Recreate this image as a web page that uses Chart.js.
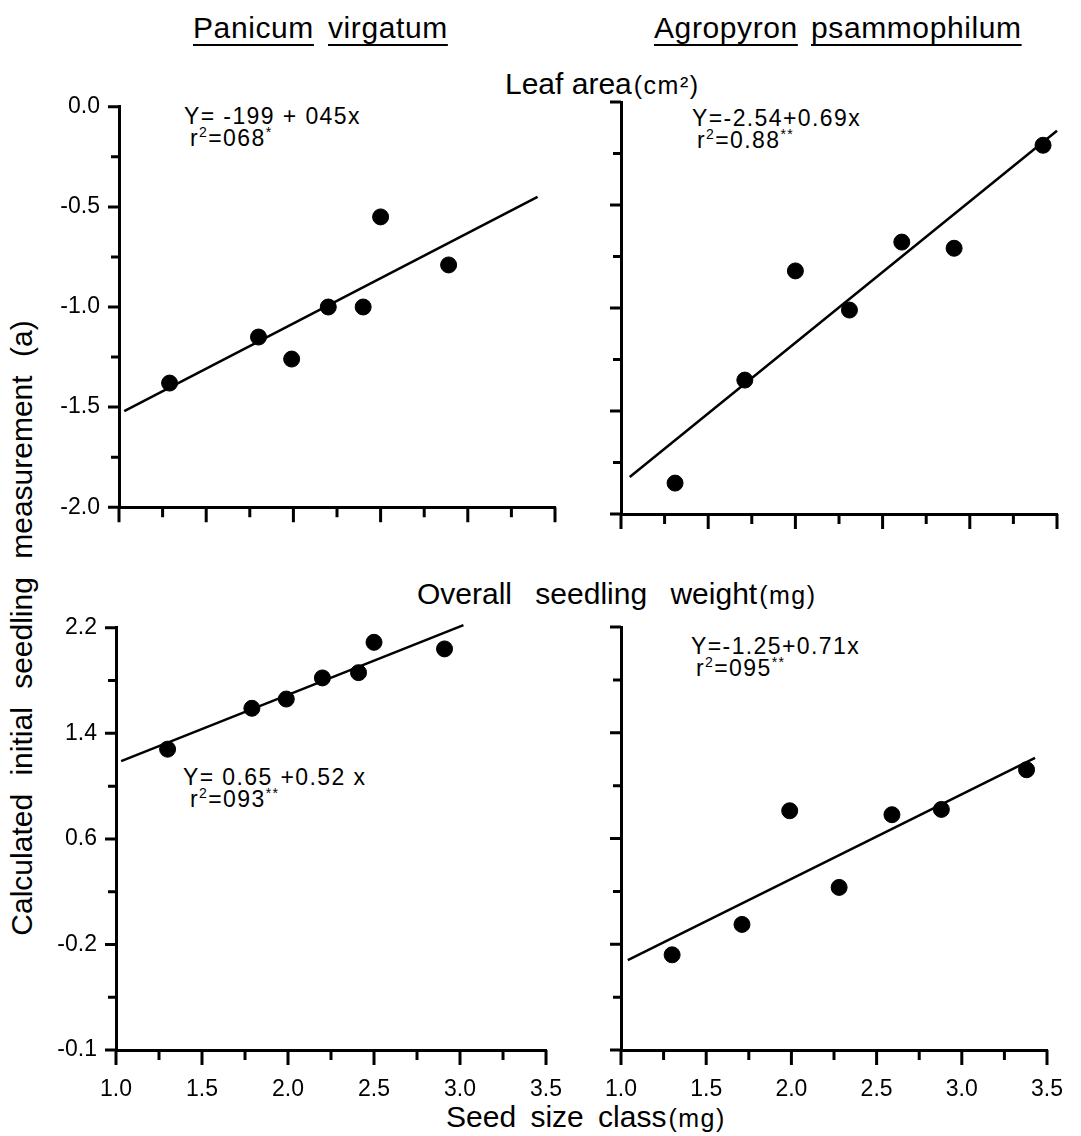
<!DOCTYPE html>
<html>
<head>
<meta charset="utf-8">
<title>Seed size class vs initial seedling measurement</title>
<script src="https://cdn.jsdelivr.net/npm/chart.js@4.4.1/dist/chart.umd.min.js"></script>
<style>
    body { margin: 0; background: #fff; }
    #page { position: relative; width: 1081px; height: 1136px; overflow: hidden; background: #fff;
            font-family: 'Liberation Sans', Arial, sans-serif; color: #000; }
    canvas { position: absolute; }
    .txt { position: absolute; white-space: nowrap; line-height: 1; transform: translateY(-50%); }
    .title { font-size: 30px; letter-spacing: 0.6px; text-decoration: underline; text-decoration-thickness: 2px; text-underline-offset: 6px; }
    .head { font-size: 30px; }
    .head small { font-size: 25px; letter-spacing: 1.5px; margin-left: 2px; }
    .eq { font-size: 23px; letter-spacing: 1.4px; }
    .eq sup { font-size: 14px; line-height: 0; }
</style>
</head>
<body>
<div id="page">
    <!-- species titles -->
    <div class="txt title" style="left:193px; top:28px;">Panicum</div>
    <div class="txt title" style="left:328px; top:28px;">virgatum</div>
    <div class="txt title" style="left:654px; top:28px;">Agropyron</div>
    <div class="txt title" style="left:811px; top:28px;">psammophilum</div>

    <!-- measurement headings -->
    <div class="txt head" style="left:505px; top:84px;">Leaf area<small>(cm²)</small></div>
    <div class="txt head" style="left:417px; top:594px; word-spacing:15px;">Overall seedling weight<small>(mg)</small></div>
    <div class="txt head" style="left:446px; top:1117px; word-spacing:6px;">Seed size class<small>(mg)</small></div>
    <div class="txt head" style="left:22px; top:628px; word-spacing:10px; transform: translate(-50%,-50%) rotate(-90deg);">Calculated initial seedling measurement (a)</div>

    <!-- regression equations -->
    <div class="txt eq" style="left:184px; top:116px;">Y= -199 + 045x</div>
    <div class="txt eq" style="left:190px; top:138px;">r<sup>2</sup>=068<sup>*</sup></div>
    <div class="txt eq" style="left:692px; top:118px;">Y=-2.54+0.69x</div>
    <div class="txt eq" style="left:697px; top:140px;">r<sup>2</sup>=0.88<sup>**</sup></div>
    <div class="txt eq" style="left:183px; top:777px;">Y= 0.65 +0.52 x</div>
    <div class="txt eq" style="left:190px; top:799px;">r<sup>2</sup>=093<sup>**</sup></div>
    <div class="txt eq" style="left:691px; top:646px;">Y=-1.25+0.71x</div>
    <div class="txt eq" style="left:696px; top:668px;">r<sup>2</sup>=095<sup>**</sup></div>

    <canvas id="leafPanicum" width="530" height="450" style="left:50px; top:82px;"></canvas>
    <canvas id="leafAgropyron" width="496" height="450" style="left:585px; top:82px;"></canvas>
    <canvas id="weightPanicum" width="540" height="497" style="left:40px; top:603px;"></canvas>
    <canvas id="weightAgropyron" width="496" height="493" style="left:585px; top:607px;"></canvas>
</div>

<script>
// axis ticks (major ones carry a label)
const seedTicks = [1.0, 1.25, 1.5, 1.75, 2.0, 2.25, 2.5, 2.75, 3.0, 3.25, 3.5];
const seedTickLabels = ['1.0', '', '1.5', '', '2.0', '', '2.5', '', '3.0', '', '3.5'];
const leafTicks = [0, -0.25, -0.5, -0.75, -1.0, -1.25, -1.5, -1.75, -2.0];
const leafTickLabels = ['0.0', '', '-0.5', '', '-1.0', '', '-1.5', '', '-2.0'];
const weightTicks = [2.2, 1.8, 1.4, 1.0, 0.6, 0.2, -0.2, -0.6, -1.0];
const weightTickLabels = ['2.2', '', '1.4', '', '0.6', '', '-0.2', '', '-0.1'];

// Leaf area, Panicum virgatum
const leafPanicumX = [1.29, 1.80, 1.99, 2.20, 2.40, 2.50, 2.89];
const leafPanicumY = [-1.38, -1.15, -1.26, -1.00, -1.00, -0.55, -0.79];
const leafPanicumFitX = [1.03, 3.40];
const leafPanicumFitY = [-1.52, -0.45];

// Leaf area, Agropyron psammophilum
const leafAgroX = [1.31, 1.71, 2.00, 2.31, 2.61, 2.91, 3.42];
const leafAgroY = [-1.85, -1.35, -0.82, -1.01, -0.68, -0.71, -0.21];
const leafAgroFitX = [1.05, 3.50];
const leafAgroFitY = [-1.82, -0.14];

// Overall seedling weight, Panicum virgatum
const weightPanicumX = [1.30, 1.79, 1.99, 2.20, 2.41, 2.50, 2.91];
const weightPanicumY = [1.28, 1.59, 1.66, 1.82, 1.86, 2.09, 2.04];
const weightPanicumFitX = [1.03, 3.02];
const weightPanicumFitY = [1.19, 2.22];

// Overall seedling weight, Agropyron psammophilum
const weightAgroX = [1.30, 1.71, 1.99, 2.28, 2.59, 2.88, 3.38];
const weightAgroY = [-0.28, -0.05, 0.81, 0.23, 0.78, 0.82, 1.12];
const weightAgroFitX = [1.04, 3.43];
const weightAgroFitY = [-0.32, 1.21];

Chart.defaults.font.family = "'Liberation Sans', Arial, sans-serif";
Chart.defaults.color = '#000';

function toPoints(xs, ys) {
    return xs.map((x, i) => ({ x: x, y: ys[i] }));
}

// set the tick list by hand, flag the labelled ones as major
function fixedTicks(values, labels) {
    return function(scale) {
        scale.ticks = values.map((v, i) => ({ value: v, big: labels[i] !== '' }));
    };
}

// outward tick marks, long for labelled ticks, short for the others
const tickMarks = {
    id: 'tickMarks',
    afterDraw(chart) {
        const ctx = chart.ctx;
        const area = chart.chartArea;
        const xs = chart.scales.x, ys = chart.scales.y;
        ctx.save();
        ctx.strokeStyle = '#000';
        ctx.lineWidth = 3;
        ctx.beginPath();
        xs.ticks.forEach(t => {
            const px = xs.getPixelForValue(t.value);
            ctx.moveTo(px, area.bottom);
            ctx.lineTo(px, area.bottom + (t.big ? 15 : 10));
        });
        ys.ticks.forEach(t => {
            const py = ys.getPixelForValue(t.value);
            ctx.moveTo(area.left, py);
            ctx.lineTo(area.left - (t.big ? 11 : 8), py);
        });
        ctx.stroke();
        ctx.restore();
    }
};

function makePanel(id, p) {
    new Chart(document.getElementById(id).getContext('2d'), {
        type: 'scatter',
        data: {
            datasets: [{
                data: toPoints(p.x, p.y),
                backgroundColor: '#000',
                borderColor: '#000',
                pointRadius: 8,
                pointHoverRadius: 8,
                showLine: false
            }, {
                data: toPoints(p.fitX, p.fitY),
                borderColor: '#000',
                borderWidth: 2.5,
                pointRadius: 0,
                showLine: true,
                fill: false
            }]
        },
        options: {
            responsive: false,
            animation: false,
            events: [],
            clip: false,
            layout: { padding: { top: 20, right: p.padRight, bottom: 0, left: 0 } },
            plugins: { legend: { display: false }, tooltip: { enabled: false } },
            scales: {
                x: {
                    type: 'linear',
                    min: 1, max: 3.5,
                    afterBuildTicks: fixedTicks(seedTicks, seedTickLabels),
                    afterFit: s => { s.height = p.xHeight; },
                    grid: { display: false },
                    border: { display: true, color: '#000', width: 3 },
                    ticks: {
                        display: p.xLabels,
                        autoSkip: false,
                        maxRotation: 0,
                        padding: 18,
                        font: { size: 23 },
                        callback: (v, i) => seedTickLabels[i]
                    }
                },
                y: {
                    type: 'linear',
                    min: p.yMin, max: p.yMax,
                    afterBuildTicks: fixedTicks(p.yTicks, p.yLabels),
                    afterFit: s => { s.width = p.yWidth; },
                    grid: { display: false },
                    border: { display: true, color: '#000', width: 3 },
                    ticks: {
                        display: p.showY,
                        autoSkip: false,
                        padding: 11,
                        font: { size: 23 },
                        callback: (v, i) => p.yLabels[i]
                    }
                }
            }
        },
        plugins: [tickMarks]
    });
}

document.addEventListener('DOMContentLoaded', function() {
    makePanel('leafPanicum', {
        x: leafPanicumX, y: leafPanicumY, fitX: leafPanicumFitX, fitY: leafPanicumFitY,
        yMin: -2, yMax: 0, yTicks: leafTicks, yLabels: leafTickLabels, showY: true,
        xLabels: false, xHeight: 18, yWidth: 69, padRight: 25
    });
    makePanel('leafAgropyron', {
        x: leafAgroX, y: leafAgroY, fitX: leafAgroFitX, fitY: leafAgroFitY,
        yMin: -2, yMax: 0, yTicks: leafTicks, yLabels: leafTickLabels, showY: false,
        xLabels: false, xHeight: 18, yWidth: 36, padRight: 24
    });
    makePanel('weightPanicum', {
        x: weightPanicumX, y: weightPanicumY, fitX: weightPanicumFitX, fitY: weightPanicumFitY,
        yMin: -1, yMax: 2.2, yTicks: weightTicks, yLabels: weightTickLabels, showY: true,
        xLabels: true, xHeight: 50, yWidth: 76, padRight: 28
    });
    makePanel('weightAgropyron', {
        x: weightAgroX, y: weightAgroY, fitX: weightAgroFitX, fitY: weightAgroFitY,
        yMin: -1, yMax: 2.2, yTicks: weightTicks, yLabels: weightTickLabels, showY: false,
        xLabels: true, xHeight: 50, yWidth: 36, padRight: 24
    });
});
</script>
</body>
</html>
